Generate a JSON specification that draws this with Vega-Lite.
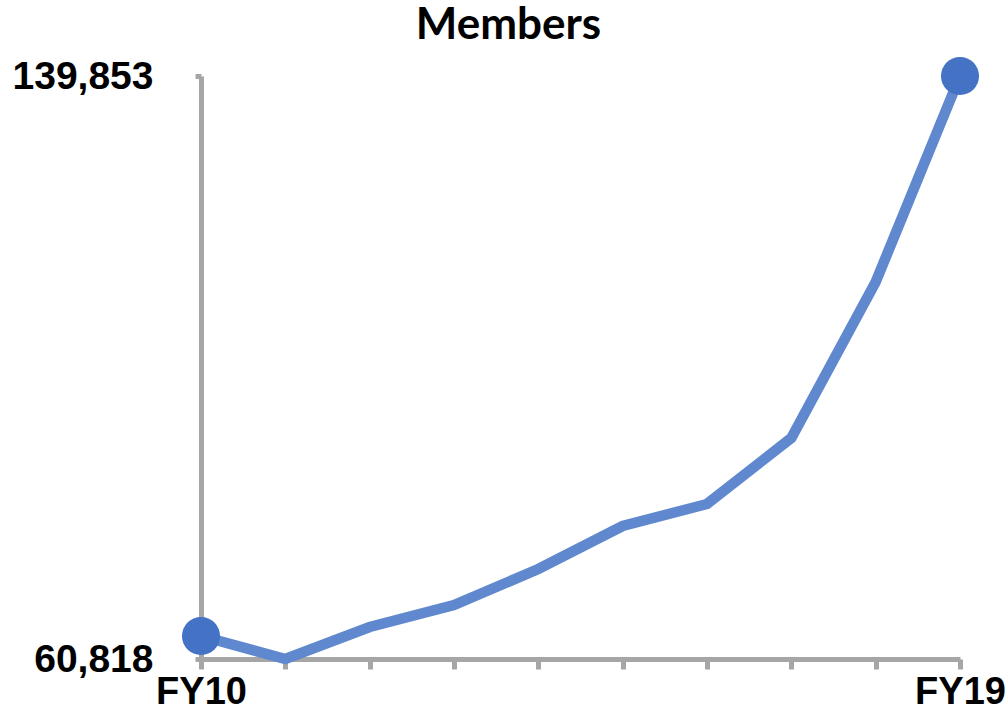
{
  "$schema": "https://vega.github.io/schema/vega-lite/v6.json",
  "autosize": "none",
  "width": 759,
  "height": 583,
  "padding": {"left": 201, "top": 76, "right": 48, "bottom": 62},
  "background": "white",
  "config": {"view": {"stroke": null}},
  "title": {
    "text": "Members",
    "font": "Lato",
    "fontWeight": "bold",
    "fontSize": 44,
    "color": "#000000",
    "anchor": "middle",
    "frame": "group",
    "dx": -72,
    "baseline": "bottom",
    "offset": -37
  },
  "data": {
    "values": [
      {"year": "FY10", "members": 63936},
      {"year": "FY11", "members": 60818},
      {"year": "FY12", "members": 65156},
      {"year": "FY13", "members": 68139},
      {"year": "FY14", "members": 73019},
      {"year": "FY15", "members": 78849},
      {"year": "FY16", "members": 81831},
      {"year": "FY17", "members": 90779},
      {"year": "FY18", "members": 111928},
      {"year": "FY19", "members": 139853}
    ]
  },
  "encoding": {
    "x": {
      "field": "year",
      "type": "ordinal",
      "scale": {"type": "point", "padding": 0},
      "axis": {
        "title": null,
        "labelAngle": 0,
        "labelExpr": "datum.label == 'FY10' || datum.label == 'FY19' ? datum.label : ''",
        "labelFont": "Liberation Sans",
        "labelFontWeight": "bold",
        "labelFontSize": 38,
        "labelColor": "#000000",
        "labelPadding": 4,
        "labelOverlap": false,
        "domainColor": "#A6A6A6",
        "domainWidth": 5,
        "tickColor": "#A6A6A6",
        "tickWidth": 5,
        "tickSize": 10,
        "grid": false
      }
    },
    "y": {
      "field": "members",
      "type": "quantitative",
      "scale": {"domain": [60818, 139853], "nice": false, "zero": false},
      "axis": {
        "title": null,
        "values": [60818, 139853],
        "format": ",d",
        "labelFont": "Liberation Sans",
        "labelFontWeight": "bold",
        "labelFontSize": 39,
        "labelColor": "#000000",
        "labelPadding": 42,
        "domainColor": "#A6A6A6",
        "domainWidth": 5,
        "tickColor": "#A6A6A6",
        "tickWidth": 5,
        "tickSize": 6,
        "grid": false
      }
    }
  },
  "layer": [
    {
      "mark": {"type": "line", "color": "#5F88CE", "strokeWidth": 10.5, "strokeJoin": "miter"}
    },
    {
      "transform": [{"filter": "datum.year == 'FY10' || datum.year == 'FY19'"}],
      "mark": {"type": "point", "filled": true, "opacity": 1, "color": "#4472C4", "size": 1450}
    }
  ]
}
